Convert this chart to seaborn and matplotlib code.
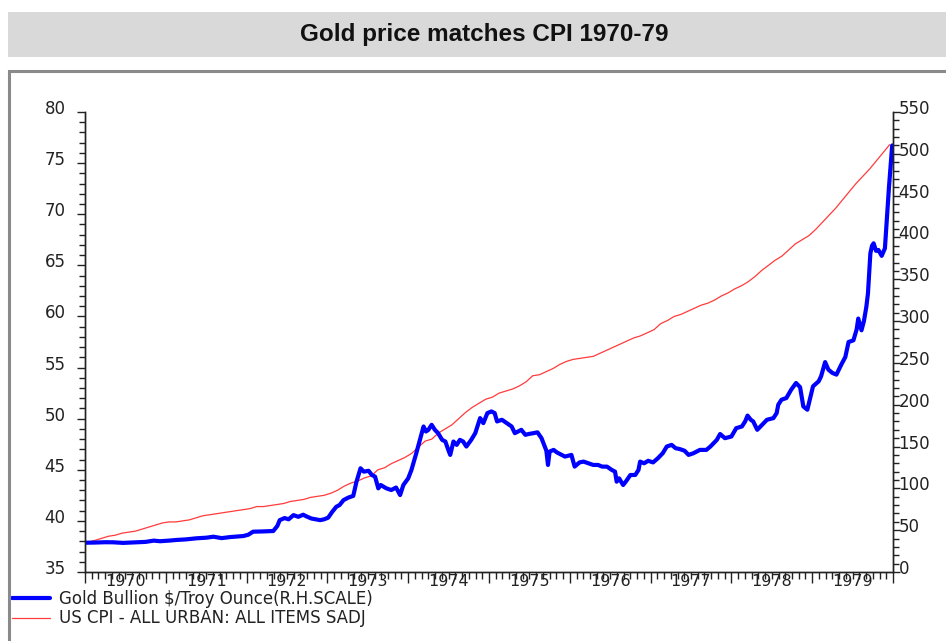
import numpy as np
import pandas as pd
import seaborn as sns
import matplotlib.pyplot as plt
from matplotlib.lines import Line2D
from matplotlib.patches import Rectangle
from matplotlib.ticker import MultipleLocator, FixedLocator, NullFormatter
import matplotlib.transforms as mtransforms

# US CPI, all urban, monthly 1970-1979 (left scale)
cpi_values = [
    37.9, 38.1, 38.3, 38.5, 38.6, 38.8, 38.9, 39.0, 39.2, 39.4, 39.6, 39.8,
    39.9, 39.9, 40.0, 40.1, 40.3, 40.5, 40.6, 40.7, 40.8, 40.9, 41.0, 41.1,
    41.2, 41.4, 41.4, 41.5, 41.6, 41.7, 41.9, 42.0, 42.1, 42.3, 42.4, 42.5,
    42.7, 43.0, 43.4, 43.7, 43.9, 44.2, 44.4, 45.0, 45.2, 45.6, 45.9, 46.2,
    46.6, 47.2, 47.8, 48.0, 48.6, 49.0, 49.4, 50.0, 50.6, 51.1, 51.5, 51.9,
    52.1, 52.5, 52.7, 52.9, 53.2, 53.6, 54.2, 54.3, 54.6, 54.9, 55.3, 55.6,
    55.8, 55.9, 56.0, 56.1, 56.4, 56.7, 57.0, 57.3, 57.6, 57.9, 58.1, 58.4,
    58.7, 59.3, 59.6, 60.0, 60.2, 60.5, 60.8, 61.1, 61.3, 61.6, 62.0, 62.3,
    62.7, 63.0, 63.4, 63.9, 64.5, 65.0, 65.5, 65.9, 66.5, 67.1, 67.5, 67.9,
    68.5, 69.2, 69.9, 70.6, 71.4, 72.2, 73.0, 73.7, 74.4, 75.2, 76.0, 76.8,
]
cpi_year = 1970 + (np.arange(len(cpi_values)) + 0.5) / 12

# Gold bullion $/troy ounce (right scale)
gold_year = [
    1970.00, 1970.12, 1970.25, 1970.35, 1970.47, 1970.60, 1970.75, 1970.85, 1970.93,
    1971.05, 1971.13, 1971.25, 1971.38, 1971.50, 1971.59, 1971.69, 1971.80, 1971.96,
    1972.02, 1972.08, 1972.20, 1972.33, 1972.38, 1972.41, 1972.47, 1972.52, 1972.58,
    1972.64, 1972.70, 1972.74, 1972.80, 1972.91, 1972.96,
    1973.01, 1973.06, 1973.11, 1973.15, 1973.20, 1973.26, 1973.32, 1973.36, 1973.41,
    1973.45, 1973.51, 1973.55, 1973.59, 1973.63, 1973.66, 1973.73, 1973.79, 1973.85,
    1973.90, 1973.94,
    1974.00, 1974.04, 1974.10, 1974.15, 1974.19, 1974.22, 1974.25, 1974.29, 1974.33,
    1974.37, 1974.42, 1974.46, 1974.50, 1974.52, 1974.56, 1974.60, 1974.64, 1974.68,
    1974.72, 1974.78, 1974.83, 1974.89, 1974.93, 1974.98,
    1975.03, 1975.07, 1975.10, 1975.16, 1975.22, 1975.28, 1975.32, 1975.40, 1975.45,
    1975.49, 1975.55, 1975.60, 1975.65, 1975.69, 1975.71, 1975.73, 1975.75, 1975.80,
    1975.84, 1975.90, 1975.94,
    1976.02, 1976.06, 1976.12, 1976.17, 1976.23, 1976.29, 1976.35, 1976.40, 1976.46,
    1976.52, 1976.56, 1976.58, 1976.61, 1976.66, 1976.70, 1976.75, 1976.81, 1976.85,
    1976.87, 1976.92, 1976.97,
    1977.03, 1977.09, 1977.15, 1977.20, 1977.26, 1977.31, 1977.36, 1977.42, 1977.47,
    1977.53, 1977.61, 1977.69, 1977.74, 1977.78, 1977.82, 1977.86, 1977.92,
    1978.00, 1978.06, 1978.13, 1978.17, 1978.20, 1978.24, 1978.27, 1978.32, 1978.38,
    1978.44, 1978.52, 1978.56, 1978.58, 1978.62, 1978.68, 1978.74, 1978.80, 1978.85,
    1978.89, 1978.94,
    1979.01, 1979.08, 1979.11, 1979.16, 1979.20, 1979.25, 1979.30, 1979.36, 1979.41,
    1979.45, 1979.51, 1979.55, 1979.57, 1979.61, 1979.64, 1979.67, 1979.69, 1979.72,
    1979.74, 1979.76, 1979.79, 1979.82, 1979.86, 1979.90, 1979.93, 1979.95, 1979.99,
]
gold_price = [
    35.0, 35.2, 35.6, 35.5, 34.8, 35.4, 36.0, 37.5, 36.8,
    37.6, 38.3, 39.0, 40.3, 41.0, 42.2, 40.5, 41.8, 43.0,
    44.5, 48.2, 48.5, 49.0, 55.0, 62.0, 64.5, 63.0, 68.0,
    66.0, 68.5, 66.5, 64.0, 62.0, 63.0,
    65.0, 72.0, 78.0, 80.0, 86.0, 89.0, 91.0, 108.0, 124.0,
    120.0, 121.0, 116.0, 114.0, 100.0, 104.0, 100.0, 98.0, 101.0,
    92.0, 104.0,
    112.0, 122.0, 142.0, 160.0, 174.0, 168.0, 170.0, 176.0, 170.0,
    166.0, 158.0, 156.0, 145.0, 140.0, 156.0, 152.0, 158.0, 156.0,
    150.0, 158.0, 166.0, 184.0, 178.0, 190.0,
    192.0, 190.0, 180.0, 182.0, 178.0, 174.0, 166.0, 170.0, 164.0,
    165.0, 166.0, 167.0, 160.0, 150.0, 145.0, 128.0, 144.0, 146.0,
    143.0, 140.0, 138.0,
    140.0, 126.0, 131.0, 132.0, 130.0, 128.0, 128.0, 126.0, 126.0,
    122.0, 120.0, 108.0, 112.0, 104.0, 109.0, 116.0, 116.0, 122.0,
    132.0, 130.0, 133.0,
    131.0, 136.0, 142.0, 150.0, 152.0, 148.0, 147.0, 145.0, 140.0,
    142.0, 146.0, 146.0, 150.0, 154.0, 158.0, 165.0, 160.0,
    162.0, 172.0, 174.0, 180.0, 187.0, 182.0, 180.0, 170.0, 176.0,
    182.0, 184.0, 190.0, 200.0, 206.0, 208.0, 218.0, 226.0, 221.0,
    198.0, 194.0,
    222.0, 228.0, 234.0, 251.0, 242.0, 238.0, 236.0, 248.0, 257.0,
    275.0, 277.0, 290.0, 303.0, 289.0, 300.0, 317.0, 333.0, 381.0,
    390.0, 393.0, 384.0, 385.0, 378.0, 387.0, 430.0, 460.0, 510.0,
]

year_labels = [str(y) for y in range(1970, 1980)]
gold_label = 'Gold Bullion $/Troy Ounce(R.H.SCALE)'
cpi_label = 'US CPI - ALL URBAN: ALL ITEMS SADJ'

cpi_df = pd.DataFrame({'year': cpi_year, 'cpi': cpi_values})
gold_df = pd.DataFrame({'year': gold_year, 'gold': gold_price})

sns.set_style('white')
plt.rcParams['font.family'] = ['DejaVu Sans']

W, H = 946, 641
fig = plt.figure(figsize=(W / 100, H / 100), dpi=100)

# grey title band and frame
fig.patches.append(Rectangle((8 / W, 1 - 57 / H), 1, 45 / H, transform=fig.transFigure,
                             facecolor='#d9d9d9', edgecolor='none', zorder=0))
fig.patches.append(Rectangle((9 / W, -0.2), 1.2, 1.2 - 71 / H, transform=fig.transFigure,
                             facecolor='none', edgecolor='#8a8a8a', lw=2.2, zorder=0))
fig.text(484 / W, 1 - 35 / H, 'Gold price matches CPI 1970-79', ha='center', va='center',
         fontsize=17.5, fontweight='bold', family=['Liberation Sans', 'DejaVu Sans'], color='#111111')

ax = fig.add_axes([85 / W, 1 - 572 / H, 808 / W, 460 / H])
ax2 = ax.twinx()

sns.lineplot(data=cpi_df, x='year', y='cpi', ax=ax, color='#ff3b3b', linewidth=0.9)
sns.lineplot(data=gold_df, x='year', y='gold', ax=ax2, color='#0000ff', linewidth=3.0)

ax.set_xlim(1970, 1980)
ax.set_ylim(35, 80)
ax2.set_ylim(0, 550)
for a in (ax, ax2):
    a.set_xlabel('')
    a.set_ylabel('')
    a.spines['top'].set_visible(False)
    for s in ('left', 'right', 'bottom'):
        a.spines[s].set_color('#222222')
        a.spines[s].set_linewidth(1.0)

# x axis: year ticks, monthly minor ticks, year labels in the middle of each year
ax.xaxis.set_major_locator(FixedLocator(list(range(1970, 1981))))
ax.xaxis.set_minor_locator(MultipleLocator(1 / 12))
ax.xaxis.set_major_formatter(NullFormatter())
ax.tick_params(axis='x', which='major', direction='out', length=8, width=1, color='#222222', bottom=True)
ax.tick_params(axis='x', which='minor', direction='out', length=5, width=1, color='#222222', bottom=True)
trans = mtransforms.blended_transform_factory(ax.transData, ax.transAxes)
for i, lab in enumerate(year_labels):
    ax.text(1970.5 + i, -9 / 460, lab, transform=trans, ha='center', va='center',
            fontsize=11.5, color='#222222')

# left axis
ax.yaxis.set_major_locator(MultipleLocator(5))
ax.yaxis.set_minor_locator(MultipleLocator(1))
ax.tick_params(axis='y', which='major', direction='out', length=6, width=1, color='#222222',
               left=True, labelsize=12, labelcolor='#222222', pad=8)
ax.tick_params(axis='y', which='minor', direction='out', length=4, width=1, color='#222222', left=True)

# right axis
ax2.yaxis.set_major_locator(MultipleLocator(50))
ax2.yaxis.set_minor_locator(MultipleLocator(10))
ax2.tick_params(axis='y', which='major', direction='out', length=5, width=1, color='#222222',
                right=True, labelsize=12, labelcolor='#222222', pad=-1)
ax2.tick_params(axis='y', which='minor', direction='out', length=4, width=1, color='#222222', right=True)

# labels sit a little above their ticks
shift = mtransforms.ScaledTranslation(0, 5 / 100, fig.dpi_scale_trans)
for lbl in ax.get_yticklabels() + ax2.get_yticklabels():
    lbl.set_transform(lbl.get_transform() + shift)

handles = [Line2D([], [], color='#0000ff', lw=3.0), Line2D([], [], color='#ff3b3b', lw=0.9)]
leg = ax.legend(handles, [gold_label, cpi_label], loc='upper left',
                bbox_to_anchor=(12 / W, 1 - 590 / H), bbox_transform=fig.transFigure,
                frameon=False, fontsize=12, handlelength=2.3, handletextpad=0.5,
                labelspacing=0.08, borderpad=0, borderaxespad=0)
for t in leg.get_texts():
    t.set_color('#222222')

fig.savefig('out.png', dpi=100)
